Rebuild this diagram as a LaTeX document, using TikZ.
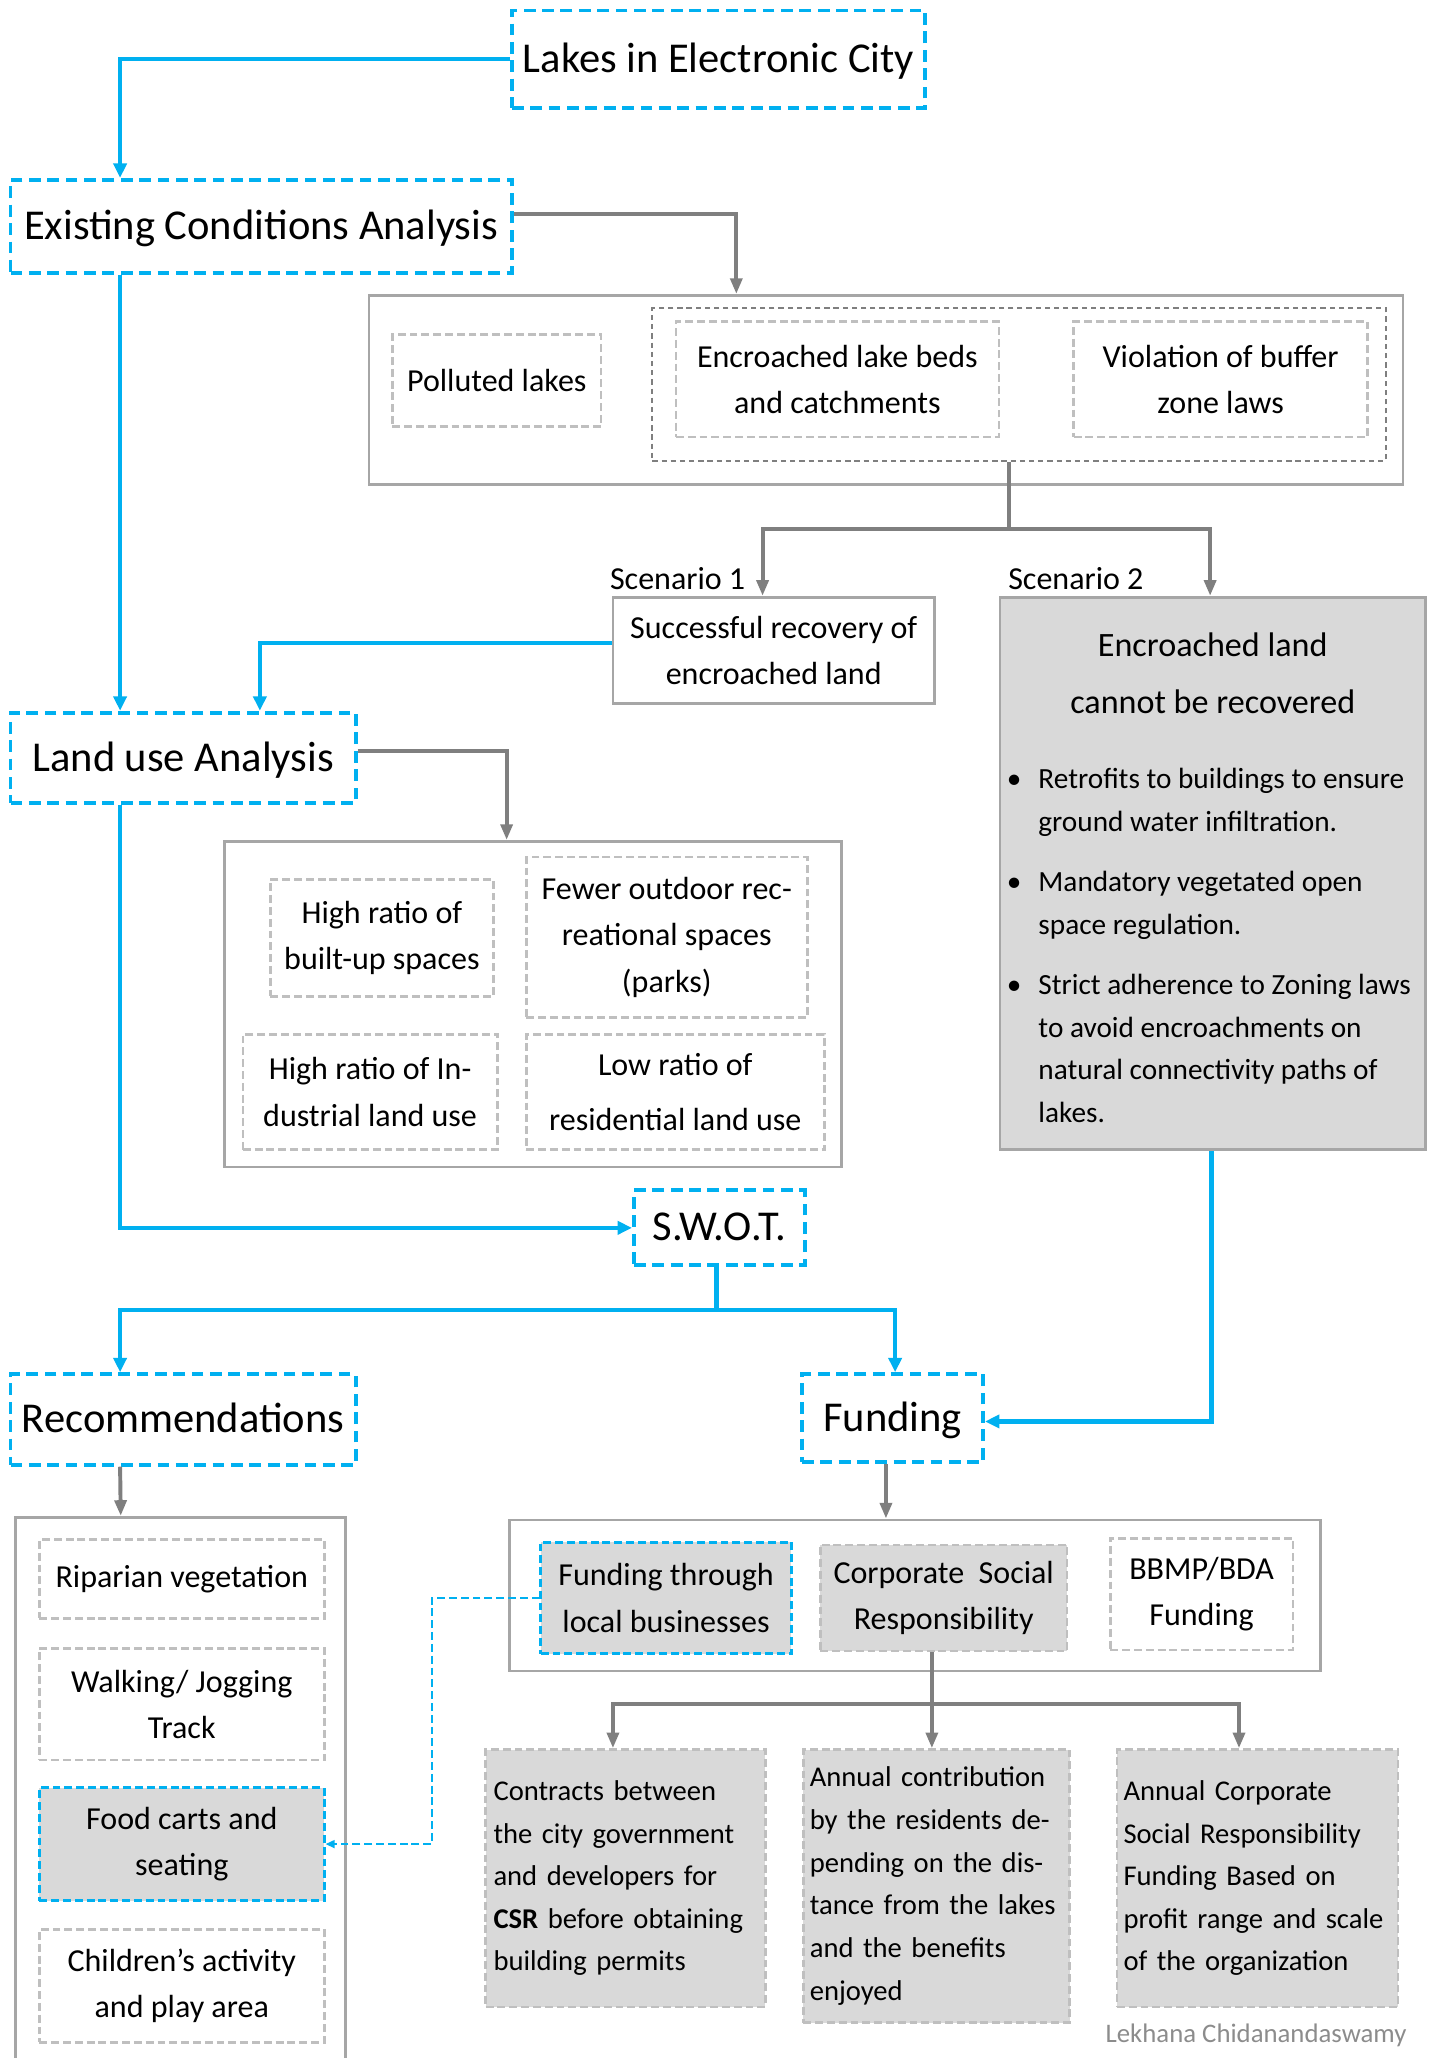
\documentclass[tikz,border=0pt]{standalone}
\usepackage{fontspec}
\setmainfont{Carlito}
\usetikzlibrary{arrows.meta}
\definecolor{lakeblue}{HTML}{00B0F0}
\definecolor{linegray}{HTML}{7F7F7F}
\definecolor{boxgray}{HTML}{D9D9D9}
\definecolor{dashgray}{HTML}{BFBFBF}
\definecolor{framegray}{HTML}{A6A6A6}
\definecolor{creditgray}{HTML}{8C8C8C}

\begin{document}
\begin{tikzpicture}[x=1pt,y=-1pt,
    every node/.style={inner sep=0pt, align=center, font=\fontsize{24.4}{35.5}\selectfont},
    headbox/.style={draw=lakeblue, line width=3pt, dash pattern=on 9pt off 5pt, fill=white, text height=24pt, text depth=4pt, font=\fontsize{32.4}{38}\selectfont},
    frame/.style={draw=framegray, line width=2pt},
    itembox/.style={draw=dashgray, line width=2pt, dash pattern=on 6pt off 3pt},
    groupbox/.style={draw=linegray, line width=1.5pt, dash pattern=on 4pt off 3pt},
    shaded/.style={fill=boxgray},
    blueitem/.style={draw=lakeblue, line width=2pt, dash pattern=on 6pt off 3pt, fill=boxgray},
    blueflow/.style={draw=lakeblue, line width=3.5pt, -{Triangle[length=11pt,width=10pt]}},
    bluelink/.style={draw=lakeblue, line width=3.5pt},
    grayflow/.style={draw=linegray, line width=3pt, -{Triangle[length=12pt,width=9pt]}},
    graylink/.style={draw=linegray, line width=3pt},
    tiplink/.style={draw=lakeblue, line width=1.6pt, dash pattern=on 6pt off 3pt, -{Triangle[length=7pt,width=6pt]}},
    smalltext/.style={font=\fontsize{21.8}{32.5}\selectfont},
  ]
  \useasboundingbox (0,0) rectangle (1095,1568);

  \node[headbox, minimum width=315pt, minimum height=74pt] (lakes) at (547.5,45) {Lakes in Electronic City};
  \node[headbox, minimum width=382pt, minimum height=71pt] (exist) at (199,172.5) {Existing Conditions Analysis};

  \node[frame, minimum width=788pt, minimum height=144pt] (cont1) at (675,297) {};
  \node[itembox, minimum width=159pt, minimum height=70pt] (polluted) at (378.5,290) {Polluted lakes};
  \node[groupbox, minimum width=559pt, minimum height=116pt] (grp1) at (776.5,293) {};
  \node[itembox, minimum width=246pt, minimum height=88pt] (encroach) at (638,289) {Encroached lake beds\\and catchments};
  \node[itembox, minimum width=224pt, minimum height=88pt] (buffer) at (930,289) {Violation of buffer\\zone laws};

  \node[anchor=east] (lab1) at (568,441) {Scenario 1};
  \node[anchor=west] (lab2) at (768,441) {Scenario 2};
  \node[frame, fill=white, minimum width=245pt, minimum height=81pt] (scen1) at (589.5,495.5) {Successful recovery of\\encroached land};
  \node[frame, shaded, minimum width=324pt, minimum height=421pt] (scen2) at (924,665.5) {};
  \node[font=\fontsize{26}{44}\selectfont] (scen2head) at (924,513) {Encroached land\\cannot be recovered};
  \node[smalltext, font=\fontsize{22.3}{32.5}\selectfont, align=left, anchor=north west] (scen2list) at (767,585) {%
    \makebox[24pt][l]{\textbullet}Retrofits to buildings to ensure\\
    \hspace*{24pt}ground water infiltration.\\[13.5pt]
    \makebox[24pt][l]{\textbullet}Mandatory vegetated open\\
    \hspace*{24pt}space regulation.\\[13.5pt]
    \makebox[24pt][l]{\textbullet}Strict adherence to Zoning laws\\
    \hspace*{24pt}to avoid encroachments on\\
    \hspace*{24pt}natural connectivity paths of\\
    \hspace*{24pt}lakes.};

  \node[headbox, minimum width=263pt, minimum height=69pt] (landuse) at (139.5,577.5) {Land use Analysis};
  \node[frame, minimum width=470pt, minimum height=248pt] (cont2) at (406,765) {};
  \node[itembox, minimum width=170pt, minimum height=89pt] (builtup) at (291,714.5) {High ratio of\\built-up spaces};
  \node[itembox, minimum width=214pt, minimum height=122pt] (fewer) at (508,714) {Fewer outdoor rec-\\reational spaces\\(parks)};
  \node[itembox, minimum width=194pt, minimum height=88pt] (industrial) at (282,832) {High ratio of In-\\dustrial land use};
  \node[itembox, minimum width=227pt, minimum height=88pt] (lowres) at (514.5,832) {Low ratio of\\[6pt]residential land use};

  \node[headbox, minimum width=130pt, minimum height=57pt] (swot) at (548,935.5) {S.W.O.T.};
  \node[headbox, minimum width=263pt, minimum height=69pt] (recom) at (139.5,1081.5) {Recommendations};
  \node[headbox, minimum width=138pt, minimum height=67pt] (funding) at (680,1080.5) {Funding};

  \node[frame, anchor=north, minimum width=251pt, minimum height=430pt] (cont3) at (137.5,1155) {};
  \node[itembox, minimum width=217pt, minimum height=60pt] (riparian) at (138.5,1203) {Riparian vegetation};
  \node[itembox, minimum width=217pt, minimum height=85pt] (walking) at (138.5,1298.5) {Walking/ Jogging\\Track};
  \node[blueitem, minimum width=217pt, minimum height=86pt] (food) at (138.5,1405) {Food carts and\\seating};
  \node[itembox, minimum width=217pt, minimum height=86pt] (children) at (138.5,1513) {Children’s activity\\and play area};

  \node[frame, minimum width=618pt, minimum height=115pt] (cont4) at (697,1215.5) {};
  \node[blueitem, minimum width=191pt, minimum height=85pt] (localbiz) at (507.5,1217.5) {Funding through\\local businesses};
  \node[itembox, shaded, minimum width=188pt, minimum height=81pt] (csr) at (719,1217.5) {Corporate~~Social\\Responsibility};
  \node[itembox, minimum width=139pt, minimum height=85pt] (bbmp) at (915.5,1214.5) {BBMP/BDA\\Funding};

  \node[itembox, shaded, smalltext, inner xsep=6pt, text width=201pt, align=left, minimum height=196pt] (contracts) at (476.5,1431) {Contracts between\\the city government\\and developers for\\\textbf{CSR} before obtaining\\building permits};
  \node[itembox, shaded, smalltext, inner xsep=5pt, text width=193pt, align=left, minimum height=208pt] (annual) at (713.5,1437) {Annual contribution\\by the residents de-\\pending on the dis-\\tance from the lakes\\and the benefits\\enjoyed};
  \node[itembox, shaded, smalltext, inner xsep=5pt, text width=204pt, align=left, minimum height=196pt] (corporate) at (958,1431) {Annual Corporate\\Social Responsibility\\Funding Based on\\profit range and scale\\of the organization};

  \node[font=\fontsize{20.4}{24}\selectfont, text=creditgray] (credit) at (957,1551) {Lekhana Chidanandaswamy};

  \draw[blueflow] (lakes.west) -| ([xshift=85pt]exist.north west);
  \draw[grayflow] ([yshift=9.5pt]exist.east) -| ([xshift=281pt]cont1.north west);
  \draw[blueflow] ([xshift=85pt]exist.south west) -- ([xshift=85pt]landuse.north west);
  \coordinate (split1) at (769,403);
  \draw[graylink] ([xshift=-7.5pt]grp1.south) -- (split1);
  \draw[grayflow] (split1) -| ([xshift=-8.5pt]scen1.north);
  \draw[grayflow] (split1) -| ([xshift=-2pt]scen2.north);
  \draw[blueflow] ([yshift=5.5pt]scen1.west) -| ([xshift=58.5pt]landuse.north);
  \draw[grayflow] ([yshift=5.5pt]landuse.east) -| ([xshift=-20pt]cont2.north);
  \draw[blueflow] ([xshift=85pt]landuse.south west) |- (swot.west);
  \coordinate (split2) at (546,998);
  \draw[bluelink] ([xshift=-2pt]swot.south) -- (split2);
  \draw[blueflow] (split2) -| ([xshift=85pt]recom.north west);
  \draw[blueflow] (split2) -| ([xshift=2pt]funding.north);
  \draw[blueflow] ([xshift=-1pt]scen2.south) |- ([yshift=-2.5pt]funding.east);
  \draw[grayflow] ([xshift=85pt]recom.south west) -- ([xshift=81pt]cont3.north west);
  \draw[grayflow] ([xshift=-5pt]funding.south) -- ([xshift=-22pt]cont4.north);
  \draw[tiplink] (localbiz.west) -- ++(-82,0) |- (food.east);
  \coordinate (split3) at (710,1298);
  \draw[grayflow] ([xshift=-9pt]csr.south) -- ([xshift=-3.5pt]annual.north);
  \draw[grayflow] (split3) -| ([xshift=-9.5pt]contracts.north);
  \draw[grayflow] (split3) -| ([xshift=-14pt]corporate.north);
\end{tikzpicture}
\end{document}
